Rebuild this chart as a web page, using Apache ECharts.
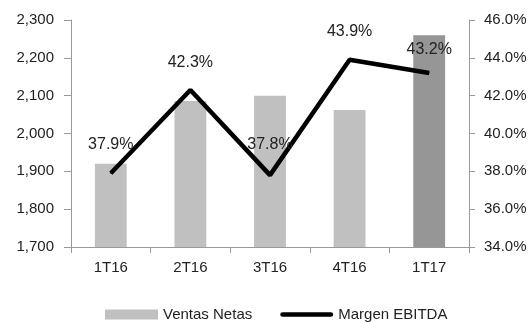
<!DOCTYPE html>
<html><head><meta charset="utf-8">
<script src="https://cdn.jsdelivr.net/npm/echarts@6/dist/echarts.min.js"></script>
<style>html,body{margin:0;padding:0;background:#fff}#c{width:532px;height:322px}</style>
</head><body><div id="c"></div>
<script>
var categories = ['1T16', '2T16', '3T16', '4T16', '1T17'];
var ventasNetas = [1920, 2086, 2100, 2062, 2260];
var margenEbitda = [37.9, 42.3, 37.8, 43.9, 43.2];
var barColors = ['#c0c0c0', '#c0c0c0', '#c0c0c0', '#c0c0c0', '#969696'];
var labelDistances = [20, 19, 22, 20, 15];

var chart = echarts.init(document.getElementById('c'));
var font = 'Liberation Sans, Arial, sans-serif';
chart.setOption({
  animation: false,
  textStyle: { fontFamily: font },
  grid: { left: 71, right: 63, top: 20, bottom: 75 },
  legend: {
    top: 302, left: 100,
    itemWidth: 53, itemHeight: 10, itemGap: 28,
    textStyle: { fontSize: 15, color: '#222', fontFamily: font },
    data: [
      { name: 'Ventas Netas', icon: 'rect', itemStyle: { color: '#c0c0c0' } },
      { name: 'Margen EBITDA', icon: 'path://M2,0 H104 A2,2 0 0 1 104,10 H2 A2,2 0 0 1 2,0 Z', itemStyle: { color: '#000' } }
    ]
  },
  xAxis: {
    type: 'category', data: categories,
    axisLine: { lineStyle: { color: '#999' } },
    axisTick: { show: true, lineStyle: { color: '#999' }, length: 6 },
    axisLabel: { color: '#222', fontSize: 15, margin: 13 }
  },
  yAxis: [{
    type: 'value', min: 1700, max: 2300, interval: 100,
    axisLine: { show: true, lineStyle: { color: '#999' } },
    axisTick: { show: true, lineStyle: { color: '#999' }, length: 7 },
    splitLine: { show: false },
    axisLabel: { color: '#222', fontSize: 15, margin: 17, formatter: function (v) { return v.toLocaleString('en-US'); } }
  }, {
    type: 'value', min: 34, max: 46, interval: 2,
    axisLine: { show: true, lineStyle: { color: '#999' } },
    axisTick: { show: true, lineStyle: { color: '#999' }, length: 6 },
    splitLine: { show: false },
    axisLabel: { color: '#222', fontSize: 15, margin: 15, formatter: function (v) { return v.toFixed(1) + '%'; } }
  }],
  series: [{
    name: 'Ventas Netas', type: 'bar', yAxisIndex: 0, barWidth: '40%',
    data: ventasNetas.map(function (v, i) { return { value: v, itemStyle: { color: barColors[i] } }; }),
    itemStyle: { color: '#c0c0c0' }
  }, {
    name: 'Margen EBITDA', type: 'line', yAxisIndex: 1,
    data: margenEbitda.map(function (v, i) { return { value: v, label: { distance: labelDistances[i] } }; }),
    symbol: 'circle', symbolSize: 1, showSymbol: true, z: 5,
    lineStyle: { color: '#000', width: 4.5 },
    itemStyle: { color: '#000' },
    label: { show: true, position: 'top', fontSize: 16, color: '#222', formatter: function (p) { return p.value.toFixed(1) + '%'; } }
  }]
});
</script></body></html>
